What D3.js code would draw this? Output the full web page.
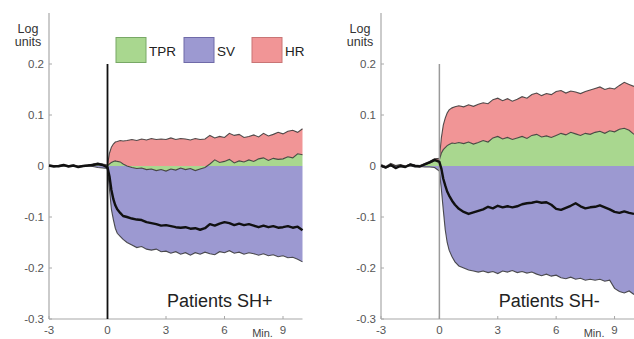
<!DOCTYPE html>
<html><head><meta charset="utf-8">
<script src="https://cdn.jsdelivr.net/npm/d3@7"></script>
<style>body{margin:0;background:#fff}svg{display:block}text{font-family:"Liberation Sans",Arial,sans-serif}</style>
</head><body>
<svg id="c" width="634" height="339"></svg>
<script>
const time = [-3,-2.75,-2.5,-2.25,-2,-1.75,-1.5,-1.25,-1,-0.75,-0.5,-0.25,
  0,0.1,0.2,0.3,0.4,0.5,0.65,0.8,1,
  1.25,1.5,1.75,2,2.25,2.5,2.75,3,3.25,3.5,3.75,4,4.25,4.5,4.75,5,5.25,5.5,5.75,6,
  6.25,6.5,6.75,7,7.25,7.5,7.75,8,8.25,8.5,8.75,9,9.25,9.5,9.75,10];

const xTicks = [-3,0,3,6,9];
const yTicks = [-0.3,-0.2,-0.1,0,0.1,0.2];
const yTickLabels = ["-0.3","-0.2","-0.1","0","0.1","0.2"];
const legendNames = ["TPR","SV","HR"];
const panelTitles = ["Patients SH+","Patients SH-"];

// Patients SH+
const tprA = [0.001,0,-0.001,0.001,0,0.001,-0.001,0,0.001,0.002,0.003,0.002,
  0,0.004,0.007,0.009,0.01,0.009,0.008,0.004,0.0,
  -0.003,-0.005,-0.004,-0.007,-0.006,-0.009,-0.007,-0.01,-0.006,-0.008,-0.004,-0.007,-0.005,-0.009,-0.006,-0.003,0.004,0.012,0.007,0.009,
  0.013,0.006,0.01,0.008,0.012,0.009,0.014,0.016,0.011,0.015,0.013,0.014,0.018,0.016,0.024,0.022];
const hrA = [0.001,0.001,0.001,0.001,0.001,0.001,0.001,0.001,0.001,0.002,0.003,0.002,
  0.002,0.021,0.030,0.034,0.037,0.039,0.042,0.045,0.05,
  0.055,0.055,0.057,0.058,0.06,0.061,0.06,0.062,0.061,0.06,0.058,0.06,0.056,0.063,0.058,0.056,0.056,0.043,0.051,0.047,
  0.051,0.054,0.052,0.048,0.046,0.052,0.043,0.048,0.048,0.047,0.053,0.049,0.05,0.054,0.042,0.051];
const svA = [-0.001,0,-0.002,0,-0.001,0,-0.002,-0.001,0,-0.001,-0.003,-0.004,
  -0.005,-0.045,-0.085,-0.105,-0.122,-0.132,-0.138,-0.144,-0.15,
  -0.155,-0.16,-0.158,-0.163,-0.165,-0.163,-0.168,-0.167,-0.171,-0.168,-0.173,-0.17,-0.175,-0.17,-0.173,-0.169,-0.172,-0.174,-0.168,-0.17,
  -0.166,-0.171,-0.169,-0.173,-0.17,-0.172,-0.175,-0.172,-0.176,-0.174,-0.178,-0.176,-0.18,-0.179,-0.183,-0.188];
const totalA = [0.001,-0.001,0,0.002,-0.001,0.001,-0.002,0,0.001,0.002,0.004,0.002,
  -0.003,-0.02,-0.047,-0.065,-0.077,-0.085,-0.092,-0.098,-0.1,
  -0.103,-0.105,-0.106,-0.11,-0.112,-0.114,-0.117,-0.116,-0.118,-0.12,-0.121,-0.12,-0.123,-0.122,-0.125,-0.122,-0.114,-0.117,-0.113,-0.11,
  -0.112,-0.116,-0.113,-0.116,-0.114,-0.117,-0.12,-0.117,-0.12,-0.118,-0.121,-0.12,-0.118,-0.121,-0.119,-0.126];

// Patients SH-
const tprB = [0.002,-0.002,0.003,0,0.002,-0.001,0.002,0.001,0,0.003,0.006,0.01,
  0.012,0.025,0.032,0.036,0.04,0.042,0.045,0.044,0.046,
  0.044,0.047,0.043,0.046,0.05,0.047,0.055,0.058,0.053,0.056,0.052,0.055,0.058,0.054,0.06,0.062,0.057,0.059,0.056,0.06,
  0.064,0.061,0.066,0.063,0.06,0.064,0.062,0.066,0.068,0.064,0.069,0.067,0.072,0.074,0.07,0.062];
const hrB = [0.001,0.001,0.002,0.001,0.001,0.001,0.002,0.001,0.001,0.002,0.003,0.004,
  0.003,0.03,0.048,0.058,0.064,0.068,0.069,0.072,0.072,
  0.072,0.073,0.074,0.075,0.074,0.075,0.075,0.075,0.075,0.076,0.075,0.076,0.078,0.079,0.08,0.081,0.081,0.083,0.084,0.086,
  0.084,0.082,0.081,0.082,0.082,0.082,0.087,0.086,0.087,0.086,0.084,0.084,0.086,0.09,0.09,0.094];
const svB = [-0.002,-0.004,0,-0.003,-0.001,-0.002,0,-0.002,-0.001,-0.002,-0.002,-0.003,
  -0.01,-0.045,-0.086,-0.125,-0.15,-0.165,-0.178,-0.188,-0.196,
  -0.2,-0.204,-0.206,-0.208,-0.206,-0.209,-0.207,-0.211,-0.206,-0.208,-0.205,-0.209,-0.207,-0.21,-0.208,-0.212,-0.215,-0.212,-0.216,-0.214,
  -0.219,-0.221,-0.218,-0.222,-0.22,-0.224,-0.222,-0.224,-0.222,-0.226,-0.224,-0.24,-0.246,-0.249,-0.245,-0.252];
const totalB = [0.001,-0.003,0.002,-0.004,0,-0.002,0.003,0,-0.001,0.003,0.007,0.012,
  0.008,-0.005,-0.025,-0.038,-0.05,-0.058,-0.068,-0.076,-0.084,
  -0.09,-0.094,-0.091,-0.088,-0.085,-0.08,-0.083,-0.078,-0.081,-0.079,-0.081,-0.079,-0.075,-0.073,-0.072,-0.07,-0.072,-0.071,-0.076,-0.084,
  -0.086,-0.082,-0.078,-0.073,-0.079,-0.083,-0.081,-0.08,-0.077,-0.081,-0.085,-0.09,-0.092,-0.089,-0.092,-0.094];

const colors = {TPR:"#a9d78f", SV:"#9c99d1", HR:"#f19596"};
const strokes = {TPR:"#78a866", SV:"#6f6aa8", HR:"#c97575"};

const svg = d3.select("#c");

function panel(g, cfg){
  const x = d3.scaleLinear().domain([-3,10]).range([cfg.x0, cfg.x1]);
  const y = d3.scaleLinear().domain([-0.3,0.3]).range([319,13]);
  const rows = time.map((t,i)=>({t, tpr:cfg.tpr[i], hr:cfg.hr[i], sv:cfg.sv[i], tot:cfg.total[i]}));

  const area = (f0,f1)=>d3.area().x(d=>x(d.t)).y0(d=>y(f0(d))).y1(d=>y(f1(d)));
  const line = f=>d3.line().x(d=>x(d.t)).y(d=>y(f(d)));

  g.append("path").datum(rows).attr("d", area(()=>0, d=>d.sv)).attr("fill", colors.SV);
  g.append("path").datum(rows).attr("d", area(d=>d.tpr, d=>d.tpr+d.hr)).attr("fill", colors.HR);
  g.append("path").datum(rows).attr("d", area(()=>0, d=>d.tpr)).attr("fill", colors.TPR);

  const edge = "#333";
  [d=>d.sv, d=>d.tpr, d=>d.tpr+d.hr].forEach(f=>{
    g.append("path").datum(rows).attr("d", line(f)).attr("fill","none").attr("stroke",edge)
      .attr("stroke-width",1.1).attr("stroke-opacity",0.85);
  });

  // axes
  const axisCol = "#a8a8a8";
  g.append("line").attr("x1",cfg.x0).attr("x2",cfg.x0).attr("y1",y(0.3)).attr("y2",y(-0.3)).attr("stroke",axisCol).attr("stroke-width",1.2);
  g.append("line").attr("x1",cfg.x0).attr("x2",x(10)).attr("y1",y(-0.3)).attr("y2",y(-0.3)).attr("stroke",axisCol).attr("stroke-width",1.2);
  yTicks.forEach((v,i)=>{
    g.append("line").attr("x1",cfg.x0).attr("x2",cfg.x0+3).attr("y1",y(v)).attr("y2",y(v)).attr("stroke",axisCol);
    g.append("text").attr("x",cfg.x0-5).attr("y",y(v)+4).attr("text-anchor","end")
      .attr("font-size",11.5).attr("fill","#555").text(yTickLabels[i]);
  });
  xTicks.forEach(v=>{
    g.append("line").attr("x1",x(v)).attr("x2",x(v)).attr("y1",y(-0.3)).attr("y2",y(-0.3)-3).attr("stroke",axisCol);
    g.append("text").attr("x",x(v)).attr("y",334).attr("text-anchor","middle")
      .attr("font-size",11.5).attr("fill","#555").text(v);
  });
  g.append("text").attr("x",x(7.95)).attr("y",337).attr("text-anchor","middle").attr("font-size",11).attr("fill","#444").text("Min.");

  // zero vertical line
  g.append("line").attr("x1",x(0)).attr("x2",x(0)).attr("y1",y(0.2)).attr("y2",y(-0.3))
    .attr("stroke",cfg.vcol).attr("stroke-width",cfg.vw);

  // total line
  g.append("path").datum(rows).attr("d", line(d=>d.tot)).attr("fill","none").attr("stroke","#111").attr("stroke-width",2.4).attr("stroke-linejoin","round");

  // Log units
  g.append("text").attr("x",cfg.x0-21).attr("y",33).attr("text-anchor","middle").attr("font-size",12.5).attr("fill","#333").text("Log");
  g.append("text").attr("x",cfg.x0-21).attr("y",46).attr("text-anchor","middle").attr("font-size",12.5).attr("fill","#333").text("units");

  g.append("text").attr("x",x(3.05)).attr("y",307).attr("font-size",18).attr("fill","#222").text(cfg.title);
}

panel(svg.append("g"), {x0:49, x1:302.5, tpr:tprA, hr:hrA, sv:svA, total:totalA, vcol:"#111", vw:1.8, title:panelTitles[0]});
panel(svg.append("g"), {x0:381, x1:634, tpr:tprB, hr:hrB, sv:svB, total:totalB, vcol:"#9a9a9a", vw:1.5, title:panelTitles[1]});

// legend
const leg = svg.append("g");
const legX = [116,184,252];
legendNames.forEach((n,i)=>{
  leg.append("rect").attr("x",legX[i]).attr("y",37.5).attr("width",30).attr("height",25)
    .attr("fill",colors[n]).attr("stroke",strokes[n]).attr("stroke-width",1);
  leg.append("text").attr("x",legX[i]+33).attr("y",56).attr("font-size",13.5).attr("fill","#222").text(n);
});
</script>
</body></html>
